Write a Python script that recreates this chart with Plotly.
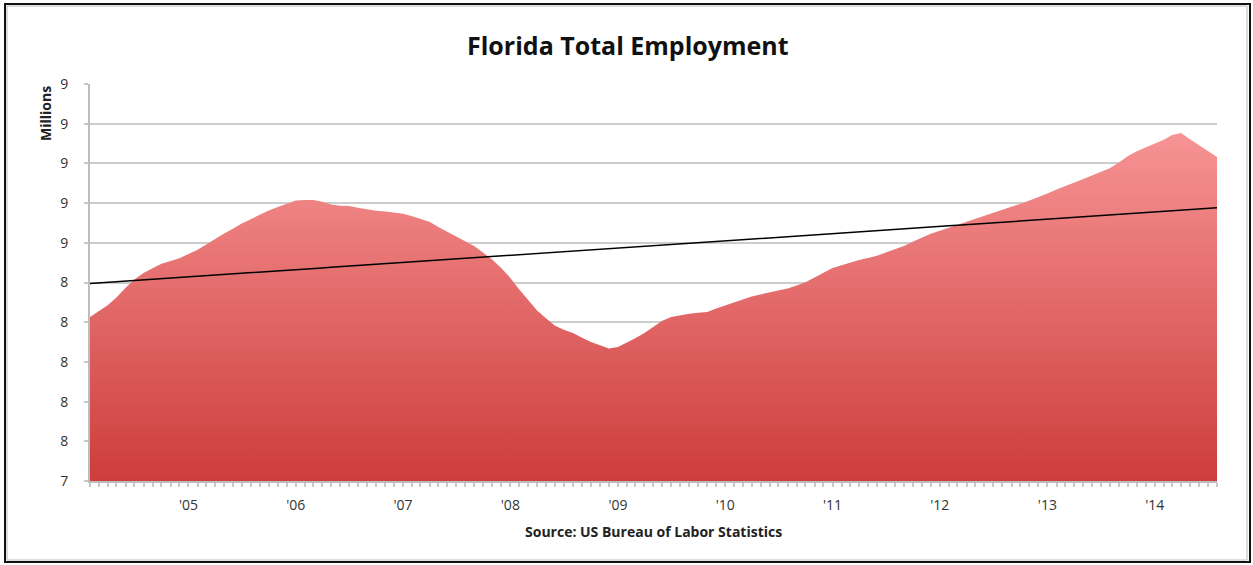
import numpy as np
import pandas as pd
import plotly.graph_objects as go

# Monthly Florida total employment (millions), Feb 2004 - Aug 2014
employment = [
    8.126, 8.155, 8.185, 8.224, 8.274, 8.315, 8.348, 8.372, 8.394, 8.408, 8.422, 8.444,
    8.465, 8.490, 8.519, 8.545, 8.571, 8.597, 8.619, 8.641, 8.663, 8.680, 8.697, 8.713,
    8.716, 8.715, 8.707, 8.693, 8.687, 8.686, 8.677, 8.668, 8.662, 8.658, 8.653, 8.646,
    8.634, 8.622, 8.606, 8.580, 8.555, 8.531, 8.507, 8.482, 8.450, 8.415, 8.373, 8.323,
    8.264, 8.211, 8.159, 8.120, 8.082, 8.062, 8.045, 8.022, 8.000, 7.984, 7.968, 7.975,
    7.997, 8.019, 8.046, 8.075, 8.107, 8.126, 8.135, 8.143, 8.148, 8.152, 8.169, 8.184,
    8.200, 8.215, 8.229, 8.240, 8.250, 8.260, 8.270, 8.285, 8.301, 8.325, 8.349, 8.373,
    8.387, 8.400, 8.413, 8.424, 8.435, 8.451, 8.466, 8.484, 8.505, 8.525, 8.546, 8.561,
    8.576, 8.591, 8.605, 8.620, 8.635, 8.650, 8.666, 8.681, 8.697, 8.713, 8.729, 8.748,
    8.768, 8.786, 8.803, 8.820, 8.839, 8.857, 8.876, 8.905, 8.936, 8.961, 8.980, 8.998,
    9.019, 9.043, 9.053, 9.022, 8.993, 8.961, 8.932,
]
start_month = "2004-02-01"
year_tick_dates = [f"{y}-01-01" for y in range(2005, 2015)]
year_tick_labels = ["'05", "'06", "'07", "'08", "'09", "'10", "'11", "'12", "'13", "'14"]
y_tick_values = [7.3, 7.5, 7.7, 7.9, 8.1, 8.3, 8.5, 8.7, 8.9, 9.1, 9.3]
y_tick_labels = ["7", "8", "8", "8", "8", "8", "9", "9", "9", "9", "9"]

dates = pd.date_range(start_month, periods=len(employment), freq="MS")
t = np.arange(len(employment))
coef = np.polyfit(t, employment, 1)
trend = np.polyval(coef, t)

W, H = 1253, 565
L, R, T, B = 90, 36, 84, 84
pw, ph = W - L - R, H - T - B


def px(x):
    return (x - L) / pw


def py(y):
    return (H - B - y) / ph


fig = go.Figure()
fig.add_trace(go.Scatter(
    x=dates, y=employment, mode="lines", line=dict(width=0, color="#E06060"),
    fill="tozeroy",
    fillgradient=dict(type="vertical", colorscale=[[0, "#CD3D3C"], [1, "#F89696"]],
                      start=7.3, stop=9.1),
    hoverinfo="skip", showlegend=False,
))
fig.add_trace(go.Scatter(
    x=dates, y=trend, mode="lines", line=dict(width=1.5, color="#000000"),
    hoverinfo="skip", showlegend=False,
))

fig.update_layout(
    width=W, height=H,
    margin=dict(l=L, r=R, t=T, b=B),
    paper_bgcolor="white", plot_bgcolor="white",
    font=dict(family="Open Sans", color="#333333"),
    xaxis=dict(
        type="date", range=[dates[0], dates[-1]],
        tickvals=year_tick_dates, ticktext=year_tick_labels,
        showgrid=False, zeroline=False,
        showline=True, linecolor="#BDBDBD", linewidth=2,
        ticks="outside", ticklen=4, tickwidth=2, tickcolor="#C8C8C8",
        tickfont=dict(size=14, color="#333333"), ticklabelstandoff=6,
        minor=dict(dtick="M1", ticks="outside", ticklen=4, tickwidth=2,
                   tickcolor="#C8C8C8", showgrid=False),
    ),
    yaxis=dict(
        range=[7.3, 9.3], tickvals=y_tick_values, ticktext=y_tick_labels,
        showgrid=True, gridcolor="#CCCCCC", gridwidth=2, zeroline=False,
        showline=True, linecolor="#BDBDBD", linewidth=2,
        ticks="outside", ticklen=4, tickwidth=2, tickcolor="#C8C8C8",
        tickfont=dict(size=14, color="#333333"), ticklabelstandoff=13,
    ),
    annotations=[
        dict(text="<b>Florida Total Employment</b>", x=px(628), y=py(45),
             xref="paper", yref="paper", showarrow=False, xanchor="center", yanchor="middle",
             font=dict(size=25, color="#111111", family="Open Sans")),
        dict(text="<b>Millions</b>", x=px(45), y=py(114), textangle=-90,
             xref="paper", yref="paper", showarrow=False, xanchor="center", yanchor="middle",
             font=dict(size=14, color="#222222", family="Open Sans")),
        dict(text="<b>Source: US Bureau of Labor Statistics</b>", x=px(653), y=py(531),
             xref="paper", yref="paper", showarrow=False, xanchor="center", yanchor="middle",
             font=dict(size=14, color="#222222", family="Open Sans")),
    ],
    shapes=[
        dict(type="rect", xref="paper", yref="paper", x0=px(7), x1=px(1247), y0=py(560), y1=py(6),
             line=dict(color="#BBBBBB", width=1)),
        dict(type="rect", xref="paper", yref="paper", x0=px(5), x1=px(1250), y0=py(562), y1=py(4),
             line=dict(color="#111111", width=2)),
    ],
)

fig.write_html("out.html")
